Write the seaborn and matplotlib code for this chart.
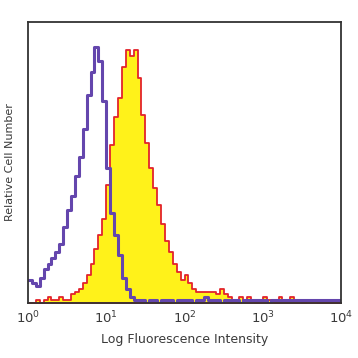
import numpy as np
import pandas as pd
from matplotlib import pyplot as plt
import seaborn as sns

# histogram bins on a log10 scale, 0.05 decade wide, 10^0 .. 10^4
bin_edges_log = np.linspace(0, 4, 81)
bin_centers = 10 ** ((bin_edges_log[:-1] + bin_edges_log[1:]) / 2)

# isotype control (purple outline), relative counts
isotype_counts = [8, 7, 6, 9, 12, 14, 16, 18, 21, 27,
                  33, 38, 45, 52, 62, 74, 82, 91, 86, 72,
                  48, 32, 24, 17, 9, 5, 2, 1, 1, 1,
                  0, 1, 1, 0, 1, 1, 1, 0, 1, 1,
                  1, 1, 0, 1, 1, 2, 1, 1, 1, 0,
                  1, 1, 1, 1, 0, 1, 1, 1, 1, 1,
                  1, 0, 1, 1, 1, 1, 1, 1, 1, 1,
                  1, 1, 1, 1, 1, 1, 1, 1, 1, 1]

# stained sample (yellow fill, red outline)
stained_counts = [0, 0, 1, 0, 1, 2, 1, 1, 2, 1,
                  1, 3, 4, 5, 7, 10, 14, 19, 24, 30,
                  42, 56, 66, 73, 84, 90, 88, 90, 80, 67,
                  57, 48, 41, 35, 28, 22, 18, 14, 11, 8,
                  10, 7, 5, 4, 4, 4, 4, 4, 3, 5,
                  3, 2, 1, 1, 2, 1, 2, 1, 0, 1,
                  2, 1, 1, 0, 2, 1, 1, 2, 1, 1,
                  0, 1, 1, 1, 0, 0, 0, 0, 0, 0]

df = pd.DataFrame({'intensity': bin_centers,
                   'isotype': isotype_counts,
                   'stained': stained_counts})

sns.set_style('white')
plt.rcParams['font.family'] = ['DejaVu Sans']

fig = plt.figure(figsize=(3.58, 3.58), dpi=100)
ax = fig.add_axes([0.078, 0.154, 0.875, 0.785])

hist_kws = dict(x='intensity', bins=80, binrange=(0, 4), log_scale=True,
                element='step', stat='count', ax=ax)

sns.histplot(data=df, weights='stained', fill=True, facecolor='#fff21a',
             edgecolor='#e3232b', alpha=1, linewidth=1.3, **hist_kws)
sns.histplot(data=df, weights='isotype', fill=False, color='#6446ad',
             linewidth=2.2, **hist_kws)

ax.set_xlim(1, 1e4)
ax.set_ylim(0, 100)
ax.set_yticks([])
ax.set_xticks([1, 10, 100, 1000, 10000])
ax.tick_params(axis='x', which='major', direction='in', length=3,
               labelsize=9.5, labelcolor='#3a3a3a', pad=5)
ax.tick_params(axis='x', which='minor', direction='in', length=2)
ax.set_xlabel('Log Fluorescence Intensity', fontsize=9, color='#3a3a3a', labelpad=5)
ax.set_ylabel('Relative Cell Number', fontsize=8, color='#3a3a3a', labelpad=9)

for s in ax.spines.values():
    s.set_color('#333333')
    s.set_linewidth(1.3)

plt.savefig('out.png', dpi=100)
